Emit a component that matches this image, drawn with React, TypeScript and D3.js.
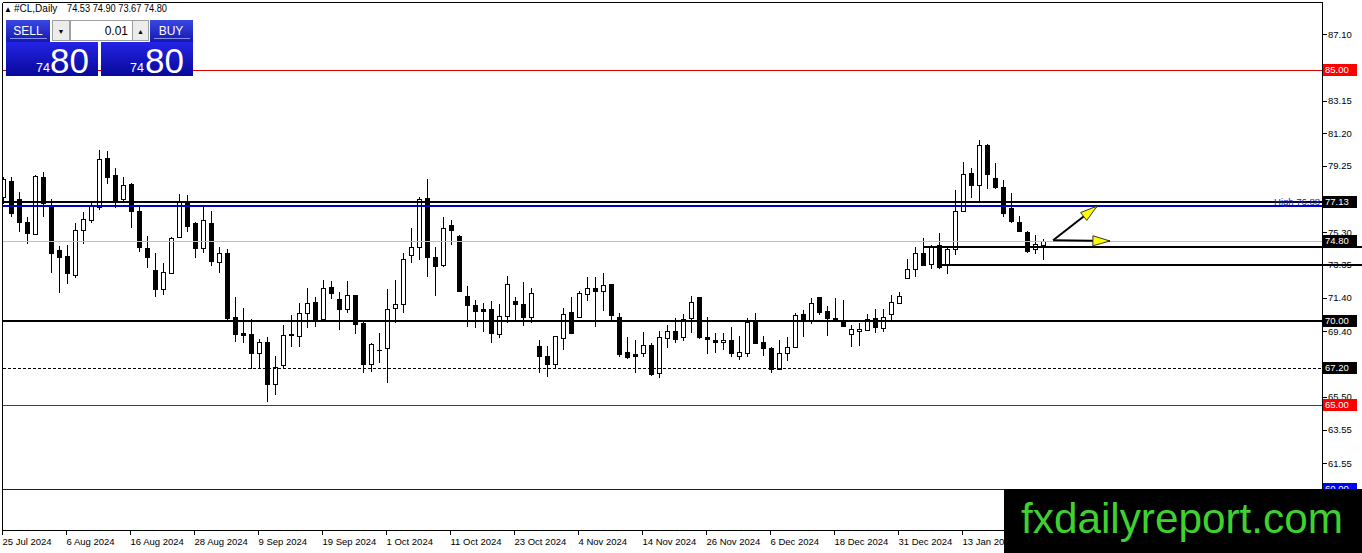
import React from 'react';
import * as d3 from 'd3';

// ---------- DATA ----------
const opens = [
  77.43, 78.36, 77.27, 75.94, 75.21, 78.62, 76.93, 74.25, 73.90, 72.76,
  75.44, 76.04, 76.83, 79.71, 78.72, 77.27, 78.18, 76.59, 74.39, 73.06,
  71.91, 72.90, 75.05, 77.19, 75.84, 74.35, 75.88, 73.54, 74.09, 70.28,
  69.33, 69.25, 68.10, 68.76, 66.25, 67.39, 69.25, 69.13, 70.48, 71.14,
  70.13, 72.03, 71.34, 70.72, 71.57, 69.89, 67.45, 68.32, 68.40, 70.78,
  71.02, 73.96, 74.41, 77.33, 73.82, 73.36, 75.74, 75.09, 71.51, 70.98,
  70.72, 70.72, 69.23, 70.34, 71.22, 71.04, 70.28, 68.53, 67.94, 67.45,
  68.99, 70.58, 70.28, 71.61, 71.97, 71.83, 72.23, 70.24, 68.16, 68.04,
  68.10, 68.59, 66.91, 69.00, 69.43, 69.05, 70.19, 71.44, 69.05, 68.89,
  68.76, 68.89, 67.96, 68.14, 69.98, 68.76, 68.40, 67.15, 68.14, 68.49,
  70.42, 70.04, 71.44, 70.62, 70.19, 70.04, 69.25, 69.43, 69.49, 70.19,
  69.59, 70.42, 71.12, 72.57, 73.10, 74.06, 73.42, 74.55, 73.42, 74.29,
  76.58, 78.82, 78.13, 80.51, 78.52, 77.99, 76.74, 75.90, 75.34, 74.31,
  74.53,
];
const highs = [
  78.60, 78.62, 77.73, 76.20, 78.70, 78.92, 77.27, 74.49, 74.55, 75.84,
  76.53, 77.13, 80.21, 80.15, 79.12, 78.58, 78.25, 76.93, 75.09, 74.09,
  73.50, 75.05, 77.59, 77.53, 75.94, 76.93, 76.58, 74.45, 74.31, 71.44,
  70.82, 70.13, 68.93, 69.05, 67.94, 69.79, 70.38, 71.08, 71.97, 71.47,
  72.47, 72.42, 71.77, 72.41, 71.60, 69.98, 68.70, 69.29, 71.91, 72.47,
  74.06, 75.55, 77.43, 78.46, 74.41, 76.20, 76.04, 75.12, 72.11, 71.28,
  71.08, 71.23, 71.04, 72.70, 71.47, 72.37, 71.97, 68.89, 68.53, 69.15,
  70.82, 71.44, 71.83, 72.63, 72.66, 72.87, 72.25, 70.52, 69.09, 68.89,
  69.39, 68.70, 69.45, 69.79, 70.19, 70.44, 71.51, 71.46, 70.28, 69.33,
  69.29, 69.65, 69.13, 70.19, 70.52, 69.13, 68.45, 68.89, 69.05, 70.52,
  70.68, 71.38, 71.46, 70.92, 71.38, 71.28, 69.79, 69.92, 70.42, 70.74,
  70.74, 71.57, 71.77, 73.70, 74.45, 74.95, 74.55, 75.25, 74.45, 77.83,
  79.51, 79.12, 80.80, 80.57, 79.42, 78.42, 77.63, 76.28, 75.36, 75.15,
  74.90,
];
const lows = [
  77.00, 76.20, 75.34, 74.59, 75.15, 76.24, 72.90, 71.67, 72.23, 72.57,
  74.61, 75.84, 76.64, 78.17, 76.77, 77.03, 75.55, 74.15, 73.16, 71.44,
  71.57, 72.87, 75.01, 75.34, 73.80, 74.06, 73.30, 72.87, 70.10, 68.79,
  68.70, 67.15, 67.24, 65.22, 65.62, 67.21, 68.49, 68.49, 69.59, 69.69,
  70.10, 71.32, 69.49, 70.48, 69.23, 66.91, 67.00, 67.54, 66.31, 69.89,
  70.52, 73.46, 73.66, 72.66, 71.51, 73.26, 74.55, 71.77, 69.69, 69.59,
  69.39, 68.70, 69.00, 69.89, 70.08, 69.73, 69.92, 66.91, 66.71, 67.21,
  68.30, 69.25, 70.24, 71.23, 69.69, 70.64, 70.08, 67.90, 67.74, 66.91,
  67.90, 66.75, 66.61, 68.40, 68.73, 68.85, 69.29, 68.95, 68.04, 68.10,
  68.30, 67.86, 67.70, 67.90, 68.68, 67.94, 66.95, 67.11, 67.66, 68.40,
  69.09, 69.85, 70.36, 69.13, 69.98, 69.69, 68.46, 68.55, 69.45, 69.29,
  69.39, 70.08, 71.10, 72.55, 72.66, 73.30, 73.10, 73.10, 72.82, 73.96,
  76.56, 77.33, 77.19, 77.87, 77.87, 76.24, 75.84, 75.34, 74.06, 74.02,
  73.67,
];
const closes = [
  78.46, 76.44, 75.90, 75.25, 78.66, 77.03, 74.09, 73.85, 72.90, 75.44,
  76.10, 76.93, 79.67, 78.62, 77.23, 78.13, 76.59, 74.41, 73.85, 71.91,
  72.96, 74.95, 77.19, 75.68, 74.39, 76.04, 73.62, 74.06, 70.19, 69.23,
  69.19, 68.10, 68.76, 66.25, 67.30, 69.19, 69.21, 70.48, 71.08, 70.08,
  71.97, 71.67, 70.72, 71.57, 69.83, 67.45, 68.65, 68.28, 70.72, 71.02,
  73.70, 74.41, 77.27, 73.85, 73.30, 75.55, 75.44, 71.83, 70.98, 70.64,
  70.64, 69.33, 70.32, 72.21, 71.02, 70.28, 71.67, 67.96, 67.45, 69.13,
  70.44, 69.29, 71.67, 71.97, 71.83, 72.17, 70.38, 68.06, 67.90, 67.96,
  68.59, 66.85, 69.05, 69.43, 68.94, 70.13, 71.14, 69.05, 68.93, 68.76,
  68.89, 68.10, 68.16, 69.98, 68.70, 68.40, 67.15, 68.10, 68.46, 70.38,
  70.04, 71.08, 70.58, 70.22, 70.04, 69.75, 69.53, 69.55, 70.13, 69.65,
  70.24, 71.14, 71.51, 73.10, 74.06, 73.36, 74.45, 73.26, 74.29, 76.58,
  78.78, 78.11, 80.51, 78.76, 77.99, 76.44, 76.00, 75.40, 74.21, 74.59,
  74.80,
];

const dateLabels = [
  '25 Jul 2024', '6 Aug 2024', '16 Aug 2024', '28 Aug 2024', '9 Sep 2024',
  '19 Sep 2024', '1 Oct 2024', '11 Oct 2024', '23 Oct 2024', '4 Nov 2024',
  '14 Nov 2024', '26 Nov 2024', '6 Dec 2024', '18 Dec 2024', '31 Dec 2024',
  '13 Jan 2025',
];
const dateLabelBars = [0, 8, 16, 24, 32, 40, 48, 56, 64, 72, 80, 88, 96, 104, 112, 120];

// all grid ticks of the price scale, and the ones whose label is not covered by a level box
const priceTicks = [87.10, 85.15, 83.15, 81.20, 79.25, 77.25, 75.30, 73.35, 71.40, 69.40, 67.45, 65.50, 63.55, 61.55];
const priceTickLabels = [87.10, 83.15, 81.20, 79.25, 75.30, 73.35, 71.40, 69.40, 67.45, 65.50, 63.55, 61.55];

// horizontal levels: resistance 85, 77.13, high 76.88, bid 74.80, 70, 67.20, 65, 60
const levelPrices = [85.00, 77.13, 76.88, 74.80, 70.00, 67.20, 65.00, 60.00];
const axisMarkPrices = [85.00, 77.13, 74.80, 70.00, 67.20, 65.00, 60.00];
const highLabel = 76.88;

// short rays on the right
const rayStartBars = [115, 117];
const rayPrices = [74.46, 73.36];

// arrows (bar index, price)
const arrowFromBar = 131.2;
const arrowFromPrice = 74.83;
const arrowToBars = [136.7, 138.3];
const arrowToPrices = [76.87, 74.79];

const headerSymbol = '#CL,Daily';
const headerOHLC = '74.53 74.90 73.67 74.80';
const lotValue = '0.01';
const priceBig = '80';
const priceSmall = '74';
const watermark = 'fxdailyreport.com';

// ---------- LAYOUT ----------
const W = 1362;
const H = 553;
const PL = 3, PR = 1322, PT = 3, PB = 530;
const FONT = '"Liberation Sans", Arial, sans-serif';

export default function App() {
  const x = d3.scaleLinear().domain([0, 130]).range([3.5, 1043.5]);
  const y = d3.scaleLinear().domain([61.55, 87.10]).range([463.3, 34.3]);
  const crisp = (v: number) => Math.round(v) + 0.5;

  const levelStyle = (i: number) => {
    switch (i) {
      case 0: return { stroke: '#e00000', w: 1, dash: undefined };
      case 1: return { stroke: '#000000', w: 2, dash: undefined };
      case 2: return { stroke: '#0000c8', w: 2, dash: undefined };
      case 3: return { stroke: '#c0c0c0', w: 1, dash: undefined };
      case 4: return { stroke: '#000000', w: 2, dash: undefined };
      case 5: return { stroke: '#000000', w: 1, dash: '3 2' };
      case 6: return { stroke: '#e00000', w: 1, dash: undefined };
      default: return { stroke: '#10108a', w: 1, dash: undefined };
    }
  };
  const markStyle = (p: number) => {
    if (p === 85 || p === 65) return '#ff0000';
    if (p === 60) return '#0000ff';
    return '#000000';
  };

  const candles = opens.map((o, i) => {
    const c = closes[i];
    const cx = x(i);
    const yo = y(o), yc = y(c);
    const top = Math.min(yo, yc), bot = Math.max(yo, yc);
    const bull = c >= o;
    const t = Math.round(top) + 0.5;
    const h = Math.max(0, Math.round(bot) - Math.round(top));
    return (
      <g key={i}>
        <line x1={cx} x2={cx} y1={Math.round(y(highs[i]))} y2={Math.round(y(lows[i]))} stroke="#000" strokeWidth={1} />
        {h < 1 ? (
          <line x1={cx - 2.5} x2={cx + 2.5} y1={t} y2={t} stroke="#000" strokeWidth={1} />
        ) : (
          <rect x={cx - 2} y={t} width={4} height={h} fill={bull ? '#ffffff' : '#000000'} stroke="#000" strokeWidth={1} />
        )}
      </g>
    );
  });

  const arrowHead = (x1: number, y1: number, x2: number, y2: number, len: number, hw: number) => {
    const a = Math.atan2(y2 - y1, x2 - x1);
    const bx = x2 - len * Math.cos(a), by = y2 - len * Math.sin(a);
    const px = -Math.sin(a) * hw, py = Math.cos(a) * hw;
    return `${x2},${y2} ${bx + px},${by + py} ${bx - px},${by - py}`;
  };

  const ax0 = x(arrowFromBar), ay0 = y(arrowFromPrice);

  return (
    <svg width={W} height={H} style={{ position: 'fixed', left: 0, top: 0, background: '#fff', display: 'block' }} fontFamily={FONT}>
      <defs>
        <clipPath id="plot">
          <rect x={PL} y={PT} width={PR - PL} height={PB - PT} />
        </clipPath>
        <linearGradient id="btnGrad" x1="0" y1="0" x2="0" y2="1">
          <stop offset="0" stopColor="#3a48e4" />
          <stop offset="1" stopColor="#1418b0" />
        </linearGradient>
        <linearGradient id="bigGrad" x1="0" y1="0" x2="0" y2="1">
          <stop offset="0" stopColor="#2424e6" />
          <stop offset="1" stopColor="#08089a" />
        </linearGradient>
      </defs>
      <rect x={0} y={0} width={W} height={H} fill="#fff" />

      {/* candles */}
      <g clipPath="url(#plot)" shapeRendering="crispEdges">{candles}</g>

      {/* level lines */}
      <g shapeRendering="crispEdges">
        {levelPrices.map((p, i) => {
          const s = levelStyle(i);
          const yy = s.w === 1 ? crisp(y(p)) : Math.round(y(p));
          return <line key={i} x1={PL} x2={PR} y1={yy} y2={yy} stroke={s.stroke} strokeWidth={s.w} strokeDasharray={s.dash} />;
        })}
        {rayPrices.map((p, i) => (
          <line key={'r' + i} x1={x(rayStartBars[i])} x2={W} y1={Math.round(y(p))} y2={Math.round(y(p))} stroke="#000" strokeWidth={2} />
        ))}
      </g>
      <text x={1320} y={Math.round(y(highLabel)) - 1} textAnchor="end" fontSize={9.5} fill="#2020c0">
        High    {highLabel.toFixed(2)}
      </text>

      {/* arrows */}
      {arrowToBars.map((b, i) => {
        const x2 = x(b), y2 = y(arrowToPrices[i]);
        return (
          <g key={'a' + i}>
            <line x1={ax0} y1={ay0} x2={x2} y2={y2} stroke="#000" strokeWidth={2} />
            <polygon points={arrowHead(ax0, ay0, x2, y2, 17, 5)} fill="#ffff00" stroke="#333" strokeWidth={1} strokeLinejoin="round" />
          </g>
        );
      })}

      {/* border & axis */}
      <g shapeRendering="crispEdges">
        <line x1={PL - 0.5} x2={PL - 0.5} y1={PT - 0.5} y2={PB + 0.5} stroke="#000" />
        <line x1={PL - 0.5} x2={PR + 0.5} y1={PT - 0.5} y2={PT - 0.5} stroke="#000" />
        <line x1={PR + 0.5} x2={PR + 0.5} y1={PT - 0.5} y2={PB + 0.5} stroke="#000" />
        <line x1={PL - 0.5} x2={W} y1={PB + 0.5} y2={PB + 0.5} stroke="#000" />
        {priceTicks.map((p) => (
          <line key={'t' + p} x1={PR + 1} x2={PR + 5} y1={crisp(y(p))} y2={crisp(y(p))} stroke="#000" />
        ))}
        {dateLabelBars.map((b) => (
          <line key={'d' + b} x1={crisp(x(b) - 2)} x2={crisp(x(b) - 2)} y1={PB + 1} y2={PB + 5} stroke="#000" />
        ))}
      </g>
      {priceTickLabels.map((p) => (
        <text key={'pt' + p} x={PR + 6} y={y(p)} dy="0.35em" fontSize={9.5} fill="#000">
          {p.toFixed(2)}
        </text>
      ))}
      {dateLabels.map((d, i) => (
        <text key={'dl' + i} x={x(dateLabelBars[i]) - 1} y={545} fontSize={9.5} fill="#000">
          {d}
        </text>
      ))}
      {axisMarkPrices.map((p) => (
        <g key={'m' + p}>
          <rect x={PR + 1} y={Math.round(y(p)) - 6} width={34} height={12} fill={markStyle(p)} shapeRendering="crispEdges" />
          <text x={PR + 3} y={Math.round(y(p))} dy="0.36em" fontSize={9.5} fill="#fff">
            {p.toFixed(2)}
          </text>
        </g>
      ))}

      {/* header */}
      <text x={4} y={12} fontSize={8} fill="#000">▲</text>
      <text x={14} y={12} fontSize={10} fill="#000">{headerSymbol}</text>
      <text x={67} y={12} fontSize={10} fill="#000" textLength={100} lengthAdjust="spacingAndGlyphs">{headerOHLC}</text>

      {/* trade panel */}
      <g>
        <rect x={6} y={20} width={44} height={22} fill="url(#btnGrad)" />
        <line x1={10} x2={47} y1={38.5} y2={38.5} stroke="#8a90f0" strokeWidth={1} />
        <text x={28} y={35} textAnchor="middle" fontSize={12} fill="#fff">SELL</text>
        <rect x={52.5} y={20.5} width={17} height={20} fill="#ececec" stroke="#a0a0a0" />
        <text x={61} y={34} textAnchor="middle" fontSize={7} fill="#000">▼</text>
        <rect x={70.5} y={20.5} width={62} height={20} fill="#ffffff" stroke="#a0a0a0" />
        <text x={128} y={35} textAnchor="end" fontSize={12} fill="#000">{lotValue}</text>
        <rect x={132.5} y={20.5} width={16} height={20} fill="#ececec" stroke="#a0a0a0" />
        <text x={140.5} y={34} textAnchor="middle" fontSize={7} fill="#000">▲</text>
        <rect x={150} y={20} width={43} height={22} fill="url(#btnGrad)" />
        <line x1={154} x2={190} y1={38.5} y2={38.5} stroke="#8a90f0" strokeWidth={1} />
        <text x={171} y={35} textAnchor="middle" fontSize={12} fill="#fff">BUY</text>

        <rect x={6} y={42} width={92} height={34} fill="url(#bigGrad)" />
        <rect x={101} y={42} width={92} height={34} fill="url(#bigGrad)" />
        <text x={36} y={72} fontSize={12.5} fill="#fff">{priceSmall}</text>
        <text x={50} y={73} fontSize={35} fill="#fff">{priceBig}</text>
        <text x={130} y={72} fontSize={12.5} fill="#fff">{priceSmall}</text>
        <text x={145} y={73} fontSize={35} fill="#fff">{priceBig}</text>
      </g>

      {/* watermark */}
      <rect x={1004} y={489} width={W - 1004} height={H - 489} fill="#000" />
      <text x={1021} y={533} fontSize={43} fill="#3fd12f" textLength={322} lengthAdjust="spacingAndGlyphs">
        {watermark}
      </text>
    </svg>
  );
}
